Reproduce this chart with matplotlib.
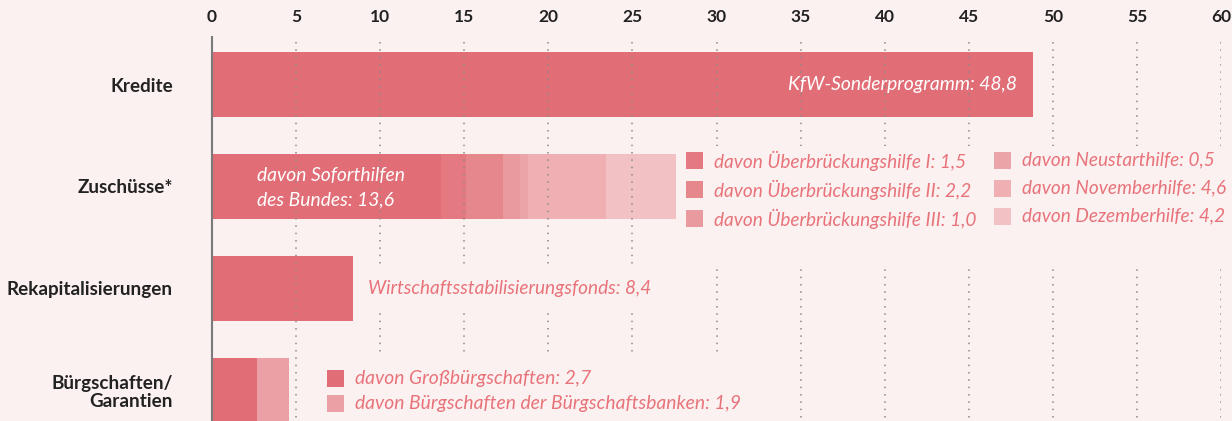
import matplotlib
matplotlib.use("Agg")
import matplotlib.pyplot as plt
from matplotlib.patches import Rectangle

# Daten
categories = ["Kredite", "Zuschüsse*", "Rekapitalisierungen", "Bürgschaften/\nGarantien"]
kredite = [48.8]
zuschuss_values = [13.6, 1.5, 2.2, 1.0, 0.5, 4.6, 4.2]
zuschuss_labels = ["davon Soforthilfen des Bundes", "davon Überbrückungshilfe I",
                   "davon Überbrückungshilfe II", "davon Überbrückungshilfe III",
                   "davon Neustarthilfe", "davon Novemberhilfe", "davon Dezemberhilfe"]
rekap = [8.4]
buerg_values = [2.7, 1.9]
buerg_labels = ["davon Großbürgschaften", "davon Bürgschaften der Bürgschaftsbanken"]
xticks = list(range(0, 61, 5))

bg = "#fcf1f1"
red = "#e16d76"
zuschuss_colors = ["#e16d76", "#e47981", "#e6878c", "#e99a9e", "#eba5a8", "#f0afb2", "#f2c1c3"]
buerg_colors = ["#e16d76", "#eaa0a4"]
txt_red = "#e8737a"
font = "Lato"

def fmt(v):
    return f"{v:.1f}".replace(".", ",")

fig = plt.figure(figsize=(12.32, 4.21), dpi=100, facecolor=bg)
ax = fig.add_axes([212 / 1232, 0, (1221 - 212) / 1232, 1 - 37 / 421])
ax.set_facecolor(bg)
ax.set_xlim(0, 60)
ax.set_ylim(3.30, -0.466)
h = 0.64

# Balken
ax.barh(0, kredite[0], height=h, color=red, zorder=2)
left = 0
for v, c in zip(zuschuss_values, zuschuss_colors):
    ax.barh(1, v, left=left, height=h, color=c, zorder=2)
    left += v
ax.barh(2, rekap[0], height=h, color=red, zorder=2)
left = 0
for v, c in zip(buerg_values, buerg_colors):
    ax.barh(3, v, left=left, height=h, color=c, zorder=2)
    left += v

# gepunktete Gitterlinien
for x in xticks[1:]:
    ax.vlines(x, -0.417, 3.4, color="#8a8a8a", linewidth=1.1,
              linestyle=(0, (1, 3.8)), zorder=3)

# Flaechen hinter den Beschriftungen verdecken die Gitterlinien
for (x0, x1, y0, y1) in [(28.0, 61.0, 0.60, 1.77), (8.8, 29.5, 1.78, 2.22), (6.1, 32.0, 2.654, 3.5)]:
    ax.add_patch(Rectangle((x0, y0), x1 - x0, y1 - y0, facecolor=bg, edgecolor="none", zorder=4))

fs_in = 13.9
fs_leg = 13.7
ax.text(47.87, 0, "KfW-Sonderprogramm: " + fmt(kredite[0]), color="white", ha="right", va="center",
        fontsize=fs_in, style="italic", family=font, zorder=5)
ax.text(2.68, 0.888, "davon Soforthilfen", color="white", ha="left", va="center",
        fontsize=fs_in, style="italic", family=font, zorder=5)
ax.text(2.68, 1.133, "des Bundes: " + fmt(zuschuss_values[0]), color="white", ha="left", va="center",
        fontsize=fs_in, style="italic", family=font, zorder=5)
ax.text(9.28, 2.0, "Wirtschaftsstabilisierungsfonds: " + fmt(rekap[0]), color=txt_red, ha="left",
        va="center", fontsize=13.7, style="italic", family=font, zorder=5)

# Legende Zuschuesse
sq_w = 17 / 16.817
sq_h = 17 / 101.9
rows = [0.745, 1.03, 1.315, 0.741, 1.016, 1.29]
cols = [28.19, 28.19, 28.19, 46.5, 46.5, 46.5]
for i in range(6):
    lab = zuschuss_labels[i + 1]
    val = zuschuss_values[i + 1]
    ax.add_patch(Rectangle((cols[i], rows[i] - sq_h / 2), sq_w, sq_h,
                           facecolor=zuschuss_colors[i + 1], edgecolor="none", zorder=5))
    ax.text(cols[i] + 1.65, rows[i], lab + ": " + fmt(val), color=txt_red, ha="left", va="center",
            fontsize=fs_leg, style="italic", family=font, zorder=5)

# Legende Buergschaften
for i, y in enumerate([2.88, 3.125]):
    ax.add_patch(Rectangle((6.84, y - sq_h / 2), sq_w, sq_h,
                           facecolor=buerg_colors[i], edgecolor="none", zorder=5))
    ax.text(6.84 + 1.65, y, buerg_labels[i] + ": " + fmt(buerg_values[i]), color=txt_red,
            ha="left", va="center", fontsize=13.9, style="italic", family=font, zorder=5)

# Achsen
ax.xaxis.tick_top()
ax.set_xticks(xticks)
ax.set_xticklabels([str(t) for t in xticks], fontsize=12.5, fontweight="bold", family=font, color="#222222")
ax.tick_params(axis="x", length=0, pad=9)
ax.set_yticks(range(4))
ax.set_yticklabels(categories, fontsize=13.6, fontweight="bold", family=font, color="#222222",
                   linespacing=1.1)
ax.tick_params(axis="y", length=0, pad=28)
for s in ["top", "right", "bottom"]:
    ax.spines[s].set_visible(False)
ax.spines["left"].set_color("#7a7a7a")
ax.spines["left"].set_linewidth(1.5)
ax.spines["left"].set_zorder(6)

fig.savefig("out.png", dpi=100, facecolor=bg)
